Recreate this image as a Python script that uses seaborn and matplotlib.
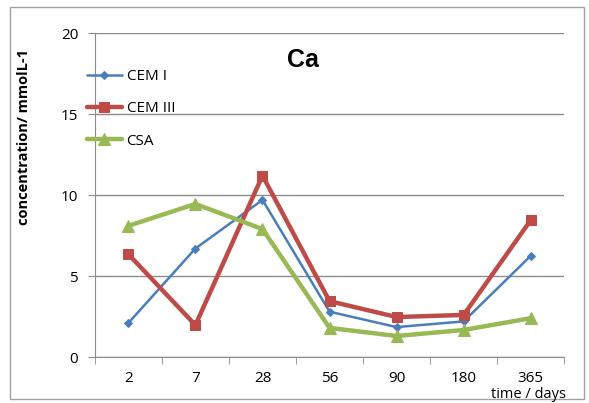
import numpy as np
import pandas as pd
import seaborn as sns
import matplotlib.pyplot as plt
from matplotlib.patches import Rectangle

days = ['2', '7', '28', '56', '90', '180', '365']
cem1 = [2.1, 6.7, 9.7, 2.8, 1.85, 2.2, 6.25]
cem3 = [6.35, 1.97, 11.2, 3.45, 2.47, 2.6, 8.45]
csa = [8.1, 9.45, 7.9, 1.8, 1.3, 1.67, 2.4]

series = {'CEM I': cem1, 'CEM III': cem3, 'CSA': csa}
colors = {'CEM I': '#4a7ebb', 'CEM III': '#be4b48', 'CSA': '#98b954'}
markers = {'CEM I': 'D', 'CEM III': 's', 'CSA': '^'}
widths = {'CEM I': 1.8, 'CEM III': 3.2, 'CSA': 3.2}
msizes = {'CEM I': 4.5, 'CEM III': 7, 'CSA': 8.5}

sns.set_style('white')
plt.rcParams['font.family'] = ['Open Sans', 'DejaVu Sans']
plt.rcParams.update({'text.color': 'black', 'axes.labelcolor': 'black',
                     'xtick.labelcolor': 'black', 'ytick.labelcolor': 'black'})

fig = plt.figure(figsize=(5.89, 4.03), dpi=100)
ax = fig.add_axes([0.161, 0.114, 0.797, 0.804])

for name, vals in series.items():
    df = pd.DataFrame({'day': days, 'value': vals})
    sns.lineplot(data=df, x='day', y='value', ax=ax, color=colors[name], marker=markers[name],
                 markersize=msizes[name], linewidth=widths[name], markeredgecolor=colors[name],
                 label=name, sort=False)

ax.set_xlim(-0.5, len(days) - 0.5)
ax.set_ylim(0, 20)
ax.set_yticks([0, 5, 10, 15, 20])
ax.yaxis.grid(True, color='#8c8c8c', linewidth=1)
ax.set_axisbelow(True)
for s in ['top', 'right']:
    ax.spines[s].set_visible(False)
for s in ['left', 'bottom']:
    ax.spines[s].set_color('#8c8c8c')
ax.set_xticks(np.arange(-0.5, len(days)), minor=True)
ax.tick_params(axis='x', which='major', length=0, pad=10, labelsize=11)
ax.tick_params(axis='x', which='minor', length=5, color='#8c8c8c', direction='out', bottom=True)
ax.tick_params(axis='y', length=5, color='#8c8c8c', direction='out', left=True, labelsize=11, pad=7)
ax.set_xlabel('')
ax.set_ylabel('concentration/ mmolL-1', fontsize=10.5, fontweight='bold')
ax.yaxis.set_label_coords(-0.135, 0.68)

fig.text(0.514, 0.85, 'Ca', fontsize=18, fontweight='bold', ha='center', va='center',
         family=['Liberation Sans', 'DejaVu Sans'])
fig.text(0.897, 0.022, 'time / days', fontsize=10.5, ha='center', va='center')

ax.legend(loc='upper left', bbox_to_anchor=(0.137, 0.843), bbox_transform=fig.transFigure,
          frameon=False, fontsize=11, labelspacing=1.12, handlelength=2.3, handletextpad=0.3,
          borderaxespad=0)

fig.patches.append(Rectangle((0.017, 0.01), 0.975, 0.972, transform=fig.transFigure,
                             fill=False, edgecolor='#a0a0a0', linewidth=1))

fig.savefig('out.png', dpi=100)
